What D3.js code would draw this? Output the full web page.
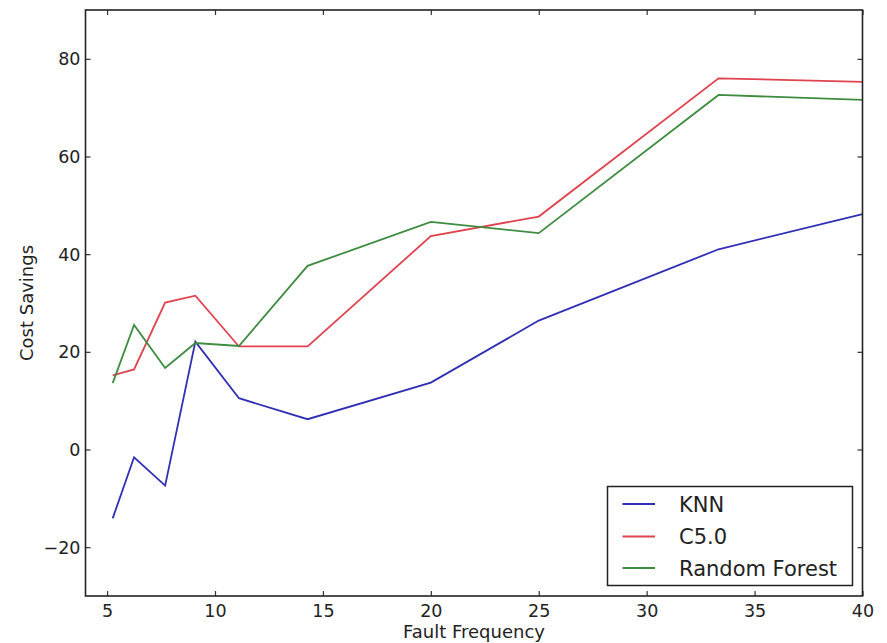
<!DOCTYPE html>
<html>
<head>
<meta charset="utf-8">
<script src="https://cdn.jsdelivr.net/npm/d3@7"></script>
<style>
  html, body { margin: 0; padding: 0; background: #fff; }
  svg { display: block; }
  text { font-family: "DejaVu Sans", sans-serif; fill: #222; }
</style>
</head>
<body>
<svg id="chart" width="887" height="643"></svg>
<script>
// Data
const faultFrequency = [5.26, 6.25, 7.69, 9.09, 11.11, 14.29, 20, 25, 33.33, 40];
const knn          = [-14.1, -1.6, -7.4, 22.1, 10.5, 6.2, 13.7, 26.4, 41.0, 48.2];
const c50          = [15.2, 16.4, 30.1, 31.5, 21.1, 21.1, 43.7, 47.7, 76.0, 75.3];
const randomForest = [13.6, 25.5, 16.7, 21.8, 21.2, 37.6, 46.6, 44.3, 72.6, 71.6];
const xTicks = [5, 10, 15, 20, 25, 30, 35, 40];
const yTicks = [-20, 0, 20, 40, 60, 80];
const seriesNames = ["KNN", "C5.0", "Random Forest"];
const seriesColors = ["#2f2fb5", "#e0424e", "#3e8c40"];
const seriesValues = [knn, c50, randomForest];

const svg = d3.select("#chart");
const L = 85.5, R = 862.5, T = 10, B = 596;

const x = d3.scaleLinear().domain([4, 40]).range([L, R]);
const y = d3.scaleLinear().domain([-30, 90]).range([B, T]);

// lines
const line = d3.line().x(d => x(d[0])).y(d => y(d[1]));
seriesValues.forEach((vals, i) => {
  svg.append("path")
    .datum(faultFrequency.map((f, j) => [f, vals[j]]))
    .attr("d", line)
    .attr("fill", "none")
    .attr("stroke", seriesColors[i])
    .attr("stroke-width", 1.8)
    .attr("stroke-linejoin", "miter");
});

// axes (inward ticks, matplotlib classic style)
const fmt = d => (d < 0 ? "\u2212" + Math.abs(d) : String(d));
const tickLen = 5;
const bottomAxis = d3.axisBottom(x).tickValues(xTicks).tickSizeInner(-tickLen).tickSizeOuter(0).tickPadding(0).tickFormat(fmt);
const topAxis = d3.axisTop(x).tickValues(xTicks).tickSizeInner(-tickLen).tickSizeOuter(0).tickFormat("");
const leftAxis = d3.axisLeft(y).tickValues(yTicks).tickSizeInner(-tickLen).tickSizeOuter(0).tickPadding(0).tickFormat(fmt);
const rightAxis = d3.axisRight(y).tickValues(yTicks).tickSizeInner(-tickLen).tickSizeOuter(0).tickFormat("");

function style(g) {
  g.select(".domain").remove();
  g.selectAll(".tick line").attr("stroke", "#333").attr("stroke-width", 1.2);
  g.selectAll(".tick text").attr("font-size", 17.5).attr("fill", "#222")
    .attr("font-family", "DejaVu Sans, sans-serif");
}

const gb = svg.append("g").attr("transform", `translate(0,${B})`).call(bottomAxis).call(style);
gb.selectAll(".tick text").attr("y", 21).attr("dy", 0);
svg.append("g").attr("transform", `translate(0,${T})`).call(topAxis).call(style);
const gl = svg.append("g").attr("transform", `translate(${L},0)`).call(leftAxis).call(style);
gl.selectAll(".tick text").attr("x", -5).attr("dy", "0.35em");
svg.append("g").attr("transform", `translate(${R},0)`).call(rightAxis).call(style);

// frame
svg.append("rect")
  .attr("x", L).attr("y", T).attr("width", R - L).attr("height", B - T)
  .attr("fill", "none").attr("stroke", "#222").attr("stroke-width", 1.6);

// axis labels
svg.append("text")
  .attr("x", (L + R) / 2).attr("y", 638)
  .attr("text-anchor", "middle").attr("font-size", 18)
  .text("Fault Frequency");
svg.append("text")
  .attr("transform", `translate(33,${(T + B) / 2}) rotate(-90)`)
  .attr("text-anchor", "middle").attr("font-size", 18)
  .text("Cost Savings");

// legend
const lg = svg.append("g");
lg.append("rect")
  .attr("x", 607.5).attr("y", 486.5).attr("width", 245).attr("height", 99)
  .attr("fill", "#fff").attr("stroke", "#222").attr("stroke-width", 1.5);
const rowY = [504, 536.5, 568];
seriesNames.forEach((n, i) => {
  lg.append("line")
    .attr("x1", 622.5).attr("x2", 655).attr("y1", rowY[i]).attr("y2", rowY[i])
    .attr("stroke", seriesColors[i]).attr("stroke-width", 1.8);
  lg.append("text")
    .attr("x", 679).attr("y", rowY[i]).attr("dy", "0.36em")
    .attr("font-size", 21).text(n);
});
</script>
</body>
</html>
